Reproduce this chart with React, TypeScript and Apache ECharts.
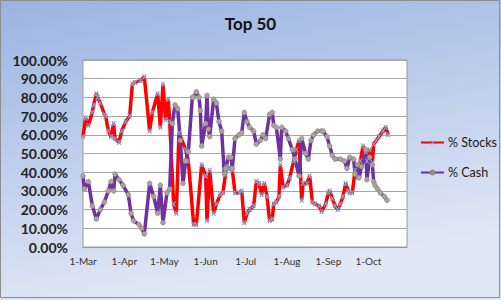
import React, { useEffect, useRef } from "react";
import * as echarts from "echarts";

// Day offsets from 1-Mar and values (%)
const stocksDays = [0,2,4,7,8,10,11,13,16,17,19,21,23,24,27,29,32,35,37,39,43,46,50,52,56,58,60,62,64,65,68,70,72,77,79,83,85,89,92,93,95,98,100,103,105,107,108,110,112,114,117,119,121,123,125,128,130,132,134,136,138,140,142,143,145,147,148,150,153,155,158,160,162,164,165,168,170,172,174,177,179,182,184,185,187,189,191,193,195,197,199,200,202,204,206,208,210,212,213,215,217,218,220,222,225,227,229];
const stocksValues = [59,69,65,72,76,82,80,77,71,70,62,59,66,58,56,62,67,70,87,88,89,91,62,72,82,64,87,68,79,67,23,18,61,52,46,12,12,44,38,14,41,18,23,28,29,40,43,42,41,29,29,30,13,18,20,22,35,34,28,34,27,14,15,23,24,27,44,32,33,37,46,52,57,25,34,34,38,24,23,22,19,23,29,30,26,22,20,23,27,34,30,29,29,41,37,46,54,51,46,52,45,55,57,59,62,64,60];

const cashDays = [0,1,4,7,10,13,16,19,21,23,24,27,30,34,36,38,42,44,46,50,53,56,58,60,63,65,67,69,71,73,75,77,79,82,83,85,87,88,89,92,93,94,95,98,100,102,104,106,107,109,111,112,114,117,119,121,123,125,128,130,133,135,137,140,142,143,145,148,149,152,154,157,159,162,164,167,169,171,173,176,179,180,183,185,187,189,193,196,198,200,203,204,206,207,209,212,213,215,217,218,219,221,223,226,228];
const cashValues = [38,31,35,22,15,20,24,30,35,30,39,36,33,28,18,14,12,10,7,34,27,18,33,13,29,31,66,76,74,57,34,46,51,80,80,83,80,73,54,66,81,63,59,79,77,67,62,39,42,48,48,42,58,60,61,72,67,64,62,55,57,60,58,71,72,65,64,47,64,62,58,52,47,38,58,50,47,57,60,62,62,62,59,54,49,47,47,46,42,48,47,39,44,37,43,52,36,48,44,35,33,31,29,27,25];

// Month starts (days from 1-Mar) and their labels
const tickDays = [0,31,61,92,122,153,184,214];
const tickLabels = ["1-Mar","1-Apr","1-May","1-Jun","1-Jul","1-Aug","1-Sep","1-Oct"];
const seriesNames = ["% Stocks", "% Cash"];
const axisEndDay = 243;

const xPath = "path://M0,0 L3,0 L5,3 L7,0 L10,0 L6.5,5 L10,10 L7,10 L5,7 L3,10 L0,10 L3.5,5 Z";

export default function App() {
  const ref = useRef<HTMLDivElement>(null);
  useEffect(() => {
    if (!ref.current) return;
    const chart = echarts.init(ref.current, null, { renderer: "svg" });
    chart.setOption({
      animation: false,
      backgroundColor: {
        type: "linear", x: 0, y: 0, x2: 0.3, y2: 1,
        colorStops: [
          { offset: 0, color: "#9ab3e1" },
          { offset: 1, color: "#e1e8f5" },
        ],
      },
      textStyle: { fontFamily: "Lato" },
      title: {
        text: "Top 50",
        left: "center",
        top: 10,
        textStyle: { fontSize: 17, fontWeight: "bold", color: "#111", fontFamily: "Lato" },
      },
      graphic: [
        {
          type: "rect",
          shape: { x: 0.5, y: 0.5, width: 499, height: 297 },
          style: { fill: "none", stroke: "#8d8d8d", lineWidth: 1 },
          silent: true,
        },
      ],
      legend: {
        orient: "vertical",
        left: 420,
        top: 136,
        padding: 0,
        itemWidth: 23,
        itemHeight: 5,
        itemGap: 17,
        data: seriesNames,
        textStyle: { fontSize: 12.5, color: "#1a1a1a", fontFamily: "Lato", padding: [0, 0, 0, -1] },
      },
      grid: {
        left: 83, right: 94, top: 60, bottom: 53,
        show: true, backgroundColor: "#ffffff", borderColor: "#9a9a9a", borderWidth: 1,
      },
      xAxis: {
        type: "value",
        min: 0,
        max: axisEndDay,
        axisLine: { show: true, lineStyle: { color: "#9a9a9a" } },
        axisTick: { show: false },
        splitLine: { show: false },
        axisLabel: {
          customValues: tickDays,
          formatter: (v: number) => {
            const i = tickDays.indexOf(v);
            return i >= 0 ? tickLabels[i] : "";
          },
          fontSize: 10,
          color: "#333",
          margin: 9,
          fontFamily: "Lato",
        },
      },
      yAxis: {
        type: "value",
        min: 0,
        max: 100,
        interval: 10,
        axisLine: { show: false },
        axisTick: { show: false },
        splitLine: { lineStyle: { color: "#a6a6a6", width: 1 } },
        axisLabel: {
          formatter: (v: number) => v.toFixed(2) + "%",
          fontSize: 14,
          fontWeight: "bold",
          color: "#222",
          margin: 15,
          fontFamily: "Lato",
        },
      },
      series: [
        {
          name: seriesNames[0],
          type: "line",
          data: stocksDays.map((d, i) => [d, stocksValues[i]]),
          lineStyle: { color: "#ff0000", width: 3.5 },
          itemStyle: { color: "#7fa0d0" },
          symbol: xPath,
          symbolSize: 5,
          showAllSymbol: true,
        },
        {
          name: seriesNames[1],
          type: "line",
          data: cashDays.map((d, i) => [d, cashValues[i]]),
          lineStyle: { color: "#7030a0", width: 3.5 },
          itemStyle: { color: "#a8a398", borderColor: "#8c877c", borderWidth: 0.5 },
          symbol: "circle",
          symbolSize: 5,
          showAllSymbol: true,
        },
      ],
    });
    return () => chart.dispose();
  }, []);
  return <div ref={ref} style={{ position: "fixed", left: 0, top: 0, width: 501, height: 300 }} />;
}
